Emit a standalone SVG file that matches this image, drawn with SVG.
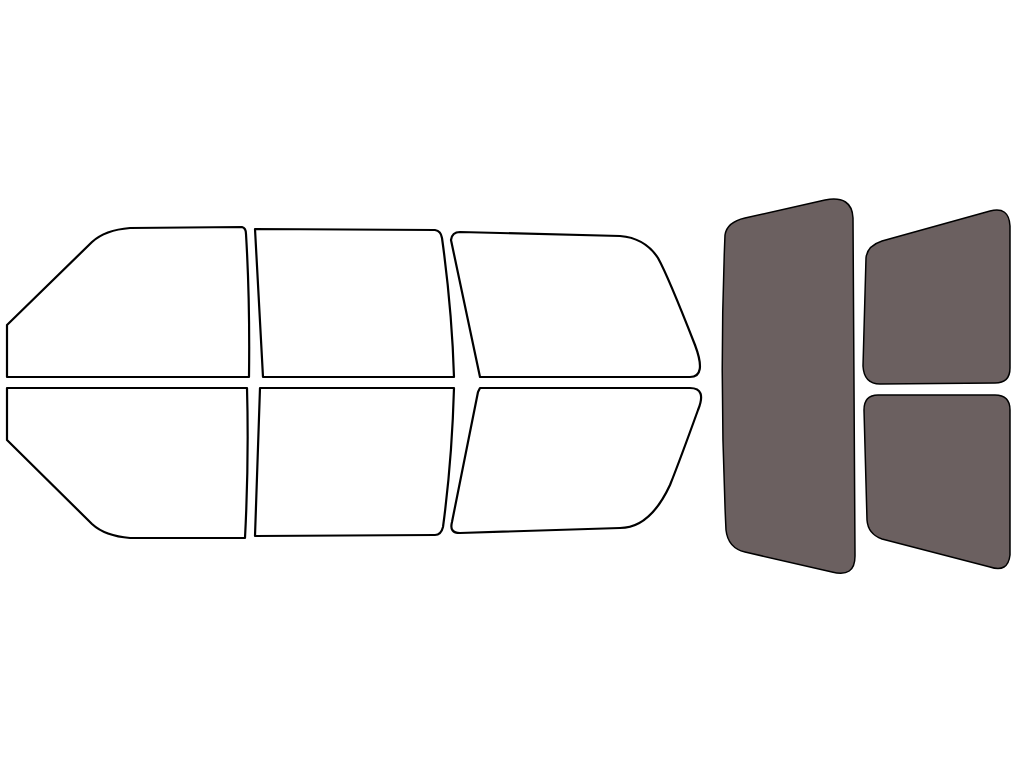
<svg xmlns="http://www.w3.org/2000/svg" width="1024" height="768" viewBox="0 0 1024 768">
<style>.w{fill:#fff;stroke:#000;stroke-width:2.2;stroke-linejoin:round}.g{fill:#6b6060;stroke:#000;stroke-width:1.5;stroke-linejoin:round}</style>
<rect width="1024" height="768" fill="#fff"/>
<g id="front-top"><path class="w" d="M7,325 L92,242 Q105,230 130,228 L242,227 Q246,228 246,234 Q250,300 249,377 L7,377 Z"/></g>
<g id="front-bottom"><path class="w" d="M7,388 L247,388 Q249,460 245,538 L130,538 Q105,536 92,524 L7,440 Z"/></g>
<g id="mid-top"><path class="w" d="M255,229 L435,230 Q441,231 442,238 Q452,310 454,377 L263,377 Z"/></g>
<g id="mid-bottom"><path class="w" d="M260,388 L454,388 Q452,460 443,527 Q441,535 435,535 L255,536 Z"/></g>
<g id="rear-top"><path class="w" d="M451,240 Q452,232 460,232 L620,236 Q645,238 658,258 Q668,276 695,345 Q707,377 690,377 L480,377 Z"/></g>
<g id="rear-bottom"><path class="w" d="M480,388 L690,388 Q707,388 698,410 Q680,460 670,485 Q650,528 620,528 L460,533 Q449,533 452,522 L478,392 Z"/></g>
<g id="back-glass"><path class="g" d="M725,235 Q727,222 745,218 L825,200 Q852,195 853,218 L855,556 Q855,578 832,572 L745,552 Q728,548 726,530 Q719,380 725,235 Z"/></g>
<g id="side-top"><path class="g" d="M866,258 Q867,246 882,241 L990,211 Q1009,206 1010,226 L1010,368 Q1010,383 995,383 L880,384 Q864,384 863,366 Z"/></g>
<g id="side-bottom"><path class="g" d="M878,395 L995,395 Q1010,395 1010,410 L1010,555 Q1008,573 990,567 L882,539 Q868,534 867,520 L864,410 Q864,395 878,395 Z"/></g>
</svg>
